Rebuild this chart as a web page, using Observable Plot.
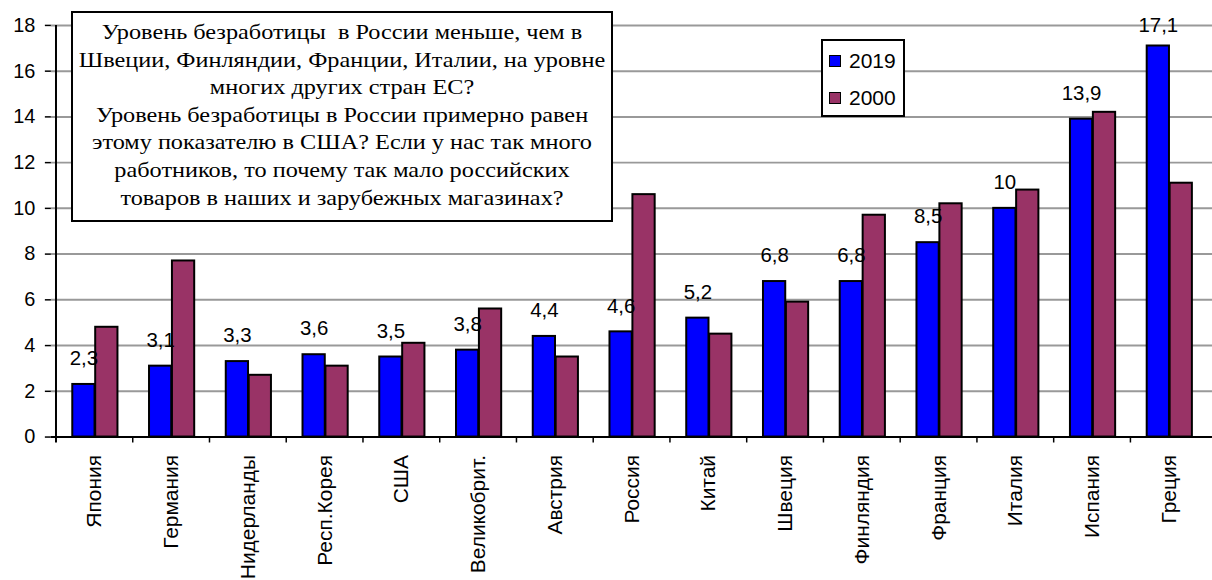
<!DOCTYPE html>
<html>
<head>
<meta charset="utf-8">
<script src="https://cdn.jsdelivr.net/npm/d3@7"></script>
<script src="https://cdn.jsdelivr.net/npm/@observablehq/plot@0.6"></script>
<style>
  html, body { margin: 0; padding: 0; background: #fff; overflow: hidden; }
  #wrap { position: relative; width: 1212px; height: 580px; overflow: hidden; background: #fff; }
  #chart { position: absolute; left: 0; top: 0; }
  #note {
    position: absolute; left: 71px; top: 11px; width: 542px; height: 211px;
    box-sizing: border-box; border: 2px solid #000; background: #fff; overflow: hidden;
  }
  #noteText {
    font-family: "Liberation Serif", "Times New Roman", serif; font-size: 21px;
    line-height: 27.6px; text-align: center; padding-top: 6px; color: #000;
    white-space: pre; transform: scaleX(1.155); transform-origin: 50% 0;
  }
  #legend {
    position: absolute; left: 821px; top: 39px; width: 84px; height: 78px;
    box-sizing: border-box; border: 2px solid #000; background: #fff;
    font-family: "Liberation Sans", Arial, sans-serif; font-size: 21px; color: #000;
  }
  .item { position: absolute; left: 6px; height: 24px; display: flex; align-items: center; }
  .sw { width: 10px; height: 10px; border: 1.5px solid #000; margin-right: 8px; }
</style>
</head>
<body>
<div id="wrap">
  <div id="chart"></div>
  <div id="note"><div id="noteText"></div></div>
  <div id="legend"></div>
</div>
<script>
const countries = ["Япония","Германия","Нидерланды","Респ.Корея","США","Великобрит.","Австрия","Россия","Китай","Швеция","Финляндия","Франция","Италия","Испания","Греция"];
const values2019 = [2.3,3.1,3.3,3.6,3.5,3.8,4.4,4.6,5.2,6.8,6.8,8.5,10,13.9,17.1];
const values2000 = [4.8,7.7,2.7,3.1,4.1,5.6,3.5,10.6,4.5,5.9,9.7,10.2,10.8,14.2,11.1];
const seriesNames = ["2019","2000"];
const seriesColors = ["#0000ff","#993366"];
const yTicks = [0,2,4,6,8,10,12,14,16,18];
const noteLines = [
  "Уровень безработицы  в России меньше, чем в",
  "Швеции, Финляндии, Франции, Италии, на уровне",
  "многих других стран ЕС?",
  "Уровень безработицы в России примерно равен",
  "этому показателю в США? Если у нас так много",
  "работников, то почему так мало российских",
  "товаров в наших и зарубежных магазинах?"
];

const rows = countries.map((c, i) => ({country: c, v2019: values2019[i], v2000: values2000[i]}));
const fmt = v => String(v).replace(".", ",");

const W = 1216, H = 580, ML = 51, MR = 0, MT = 25, MB = 142;
const step = (W - ML - MR) / countries.length;
const b1 = 16.5, b2 = 39.5, b3 = 62.5; // bar edges within a category (px)

const chart = Plot.plot({
  width: W, height: H,
  marginLeft: ML, marginRight: MR, marginTop: MT, marginBottom: MB,
  style: {fontFamily: "'Liberation Sans', Arial, sans-serif", background: "#fff", color: "#000"},
  x: {type: "band", domain: countries, padding: 0, axis: null},
  y: {domain: [0, 18], axis: null},
  marks: [
    Plot.ruleY(yTicks.filter(d => d > 0), {stroke: "#999", strokeWidth: 2}),
    Plot.barY(rows, {x: "country", y: "v2019", fill: seriesColors[0], stroke: "#000", strokeWidth: 2,
      insetLeft: b1, insetRight: step - b2}),
    Plot.barY(rows, {x: "country", y: "v2000", fill: seriesColors[1], stroke: "#000", strokeWidth: 2,
      insetLeft: b2, insetRight: step - b3}),
    Plot.ruleY([0], {stroke: "#000", strokeWidth: 2}),
    Plot.ruleX([countries[0]], {x: d => d, dx: -step / 2, y1: -0.26, y2: 18, stroke: "#000", strokeWidth: 2}),
    Plot.ruleX(countries.slice(1), {x: d => d, dx: -step / 2, y1: 0, y2: -0.26, stroke: "#000", strokeWidth: 1.5}),
    Plot.axisY({ticks: yTicks, tickSize: 6, tickPadding: 10, fontSize: 20, label: null, tickFormat: d => String(d), strokeWidth: 1.5}),
    Plot.text(rows, {x: "country", y: d => Math.min(d.v2019 + 1.13, 18), text: d => fmt(d.v2019),
      dx: (b1 + b2) / 2 - step / 2, fontSize: 20.5, fill: "#000"}),
    Plot.text(countries, {x: d => d, y: 0, text: d => d, rotate: -90, textAnchor: "end", lineAnchor: "middle",
      dy: 18, fontSize: 21, fill: "#000"})
  ]
});
document.getElementById("chart").appendChild(chart);

document.getElementById("noteText").textContent = noteLines.join("\n");

const legend = document.getElementById("legend");
seriesNames.forEach((name, i) => {
  const item = document.createElement("div");
  item.className = "item";
  item.style.top = (8 + i * 37.3) + "px";
  const sw = document.createElement("span");
  sw.className = "sw";
  sw.style.background = seriesColors[i];
  const t = document.createElement("span");
  t.textContent = name;
  item.appendChild(sw); item.appendChild(t);
  legend.appendChild(item);
});
</script>
</body>
</html>
